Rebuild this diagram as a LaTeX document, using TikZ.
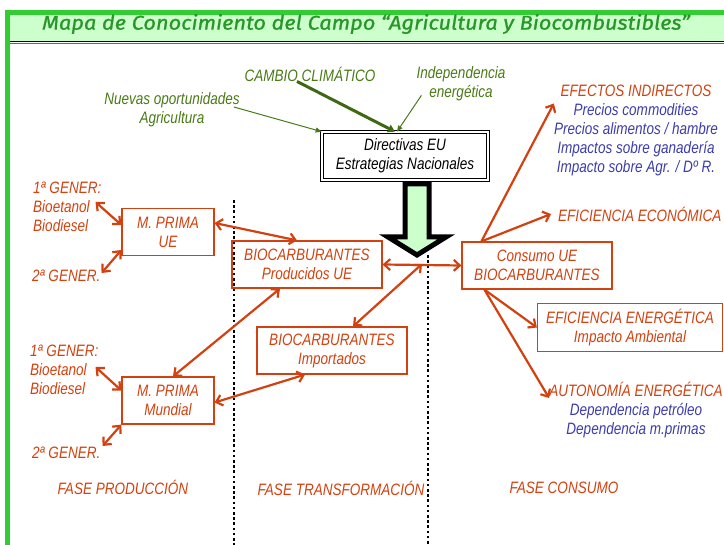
\documentclass[tikz,border=0pt]{standalone}
\usepackage{fontspec}
\setmainfont{Liberation Sans}[FakeStretch=0.82]
\newfontfamily\titlefont{Fira Sans}[FakeStretch=1.09,FakeBold=1]
\usetikzlibrary{arrows.meta}

\definecolor{rojo}{HTML}{D2410F}
\definecolor{azul}{HTML}{3C3CAA}
\definecolor{verdeos}{HTML}{4A7A16}
\definecolor{verdetit}{HTML}{289628}
\definecolor{verdeclaro}{HTML}{CCFFCC}
\definecolor{verdeborde}{HTML}{32CD32}

\tikzset{
  texto/.style={font=\fontsize{16.5}{19}\selectfont\itshape, inner sep=0pt, align=center},
  caja/.style={texto, draw=rojo, text=rojo, line width=1.2pt},
  etiq/.style={texto, text=rojo},
  etiqv/.style={texto, text=verdeos},
  flecha/.style={rojo, line width=2.2pt, -{Straight Barb[length=6pt,width=11pt]}},
  dflecha/.style={rojo, line width=2.2pt, {Straight Barb[length=6pt,width=11pt]}-{Straight Barb[length=6pt,width=11pt]}},
  fverde/.style={verdeos, line width=1pt, -{Triangle[length=6pt,width=5pt]}},
  puntos/.style={line width=2.6pt, dash pattern=on 2.6pt off 2.6pt}
}

\begin{document}
\begin{tikzpicture}[x=1pt,y=-1pt]
\useasboundingbox (0,0) rectangle (724,545);

\fill[verdeclaro] (10,15) rectangle (724,41);
\draw[verdeborde, line width=5pt] (7.5,545) -- (7.5,12.5) -- (724,12.5);
\draw[black, line width=1pt] (10,41.5) -- (724,41.5);
\draw[black!60, line width=0.8pt] (10,43.6) -- (724,43.6);
\node[font=\titlefont\fontsize{20}{22}\selectfont\itshape, text=verdetit] (titulo) at (366,24) {Mapa de Conocimiento del Campo “Agricultura y Biocombustibles”};

\draw[puntos] (234,200) -- (234,545);
\draw[puntos] (428,255) -- (428,545);

\node[etiqv] (cambio) at (310,74) {CAMBIO CLIMÁTICO};
\node[etiqv] (indep) at (461,84) {Independencia\\energética};
\node[etiqv] (nuevas) at (172,110) {Nuevas oportunidades\\Agricultura};
\node[texto, draw=black, double=white, line width=0.7pt, double distance=1.8pt, minimum width=166pt, minimum height=48pt] (dir) at (405,156) {Directivas EU\\Estrategias Nacionales};

\draw[verdeos!85!black, line width=3pt, -{Triangle[length=7pt,width=8pt]}] ([xshift=-13pt]cambio.south) -- ([xshift=-10pt]dir.north);
\draw[fverde] ([xshift=5pt,yshift=6pt]indep.south west) -- ([xshift=-8pt]dir.north);
\draw[fverde] ([xshift=-6pt,yshift=3pt]nuevas.east) -- (dir.north west);

\draw[line width=5pt, fill=verdeclaro, miter limit=10] (405,184) -- (429,184) -- (429,237) -- (446,237) -- (417,255) -- (388,237) -- (405,237) -- cycle;

\node[etiq, align=left, anchor=west] (gen1a) at (33,207) {1ª GENER:\\Bioetanol\\Biodiesel};
\node[etiq, anchor=west] (gen2a) at (32,276) {2ª GENER.};
\node[etiq, align=left, anchor=west] (gen1b) at (30,370) {1ª GENER:\\Bioetanol\\Biodiesel};
\node[etiq, anchor=west] (gen2b) at (32,453) {2ª GENER.};

\node[caja, minimum width=92pt, minimum height=47pt] (mpue) at (168,232) {M. PRIMA\\UE};
\node[caja, minimum width=92pt, minimum height=47pt] (mpmu) at (168,400.5) {M. PRIMA\\Mundial};
\node[caja, minimum width=150pt, minimum height=47pt] (prod) at (307,264.5) {BIOCARBURANTES\\Producidos UE};
\node[caja, minimum width=150pt, minimum height=47pt] (impo) at (332,350.5) {BIOCARBURANTES\\Importados};
\node[caja, minimum width=150pt, minimum height=47pt] (cons) at (537,265.5) {Consumo UE\\BIOCARBURANTES};
\node[caja, minimum width=185pt, minimum height=48pt] (efen) at (630,327.5) {EFICIENCIA ENERGÉTICA\\Impacto Ambiental};

\node[etiq] (efind) at (636,130.5) {EFECTOS INDIRECTOS\\\textcolor{azul}{Precios commodities}\\\textcolor{azul}{Precios alimentos / hambre}\\\textcolor{azul}{Impactos sobre ganadería}\\\textcolor{azul}{Impacto sobre Agr. / Dº R.}};
\node[etiq, anchor=west] (efeco) at (558,214) {EFICIENCIA ECONÓMICA};
\node[etiq] (auton) at (636,410) {AUTONOMÍA ENERGÉTICA\\\textcolor{azul}{Dependencia petróleo}\\\textcolor{azul}{Dependencia m.primas}};

\node[etiq] (fprod) at (123,487) {FASE PRODUCCIÓN};
\node[etiq] (ftran) at (341,488) {FASE TRANSFORMACIÓN};
\node[etiq] (fcons) at (564,488) {FASE CONSUMO};

\coordinate (cruce) at (422,264);

\draw[dflecha] ([xshift=-6pt,yshift=5pt]gen1a.east) -- ([yshift=7pt]mpue.west);
\draw[dflecha] ([xshift=1pt,yshift=3pt]gen2a.east) -- ([yshift=-18pt]mpue.west);
\draw[dflecha] ([yshift=9pt]mpue.east) -- ([xshift=-10pt]prod.north);
\draw[dflecha] (prod.east) -- (cons.west);
\draw[dflecha] ([xshift=21pt]impo.north) -- (cruce);
\draw[dflecha] ([xshift=-27pt]prod.south) -- ([xshift=5pt]mpmu.north);
\draw[dflecha] ([yshift=-2pt]mpmu.east) -- ([xshift=-27pt]impo.south);
\draw[dflecha] ([xshift=-3pt,yshift=3pt]gen1b.east) -- ([yshift=10pt]mpmu.west);
\draw[dflecha] ([xshift=2pt,yshift=7pt]gen2b.east) -- (mpmu.south west);

\draw[flecha] ([xshift=20pt]cons.north west) -- ([yshift=27pt]efind.west);
\draw[flecha] ([xshift=20pt]cons.north west) -- ([xshift=-7pt]efeco.west);
\draw[flecha] ([xshift=23pt]cons.south west) -- (efen.west);
\draw[flecha] ([xshift=23pt]cons.south west) -- ([yshift=12pt]auton.west);
\end{tikzpicture}
\end{document}
